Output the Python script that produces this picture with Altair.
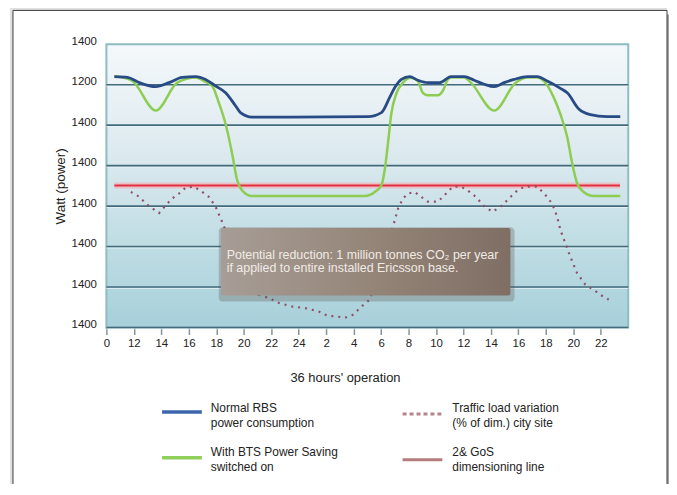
import altair as alt
import pandas as pd

FONT = "Liberation Sans"

# ---------------- data ----------------
x_tick_labels = ["0", "12", "14", "16", "18", "20", "22", "24", "2", "4",
                 "6", "8", "10", "12", "14", "16", "18", "20", "22"]
y_tick_labels = ["1400", "1400", "1400", "1400", "1400", "1400", "1200", "1400"]  # bottom -> top

normal_x = [0.29, 0.77, 1.2, 1.8, 2.28, 2.76, 3.25, 3.61, 3.97, 4.34, 4.7, 4.88, 5.3,
            9.53, 10.01, 10.31, 10.5, 10.74, 11.04, 11.34, 11.7, 12.13, 12.55, 13.03,
            13.39, 13.76, 14.12, 14.48, 14.84, 15.33, 15.69, 16.05, 16.53, 16.78, 17.2,
            17.62, 18.22, 18.71]
normal_y = [6.2, 6.18, 6.05, 5.95, 6.05, 6.18, 6.2, 6.13, 5.97, 5.8, 5.48, 5.31, 5.2,
            5.21, 5.31, 5.68, 5.93, 6.13, 6.2, 6.11, 6.05, 6.05, 6.2, 6.2,
            6.11, 6.01, 5.95, 6.05, 6.13, 6.2, 6.2, 6.09, 5.91, 5.8, 5.4,
            5.26, 5.21, 5.21]

saving_x = [0.29, 0.6, 0.95, 1.8, 2.58, 3.25, 3.55, 3.85, 4.09, 4.34, 4.58, 4.76, 4.94,
            5.3, 9.41, 9.77, 10.01, 10.13, 10.25, 10.37, 10.55, 10.8, 11.1, 11.34,
            11.52, 11.7, 12.07, 12.25, 12.43, 12.55, 13.03, 13.27, 14.12, 14.9, 15.33,
            15.69, 15.93, 16.29, 16.53, 16.78, 16.96, 17.14, 17.38, 17.74, 18.71]
saving_y = [6.2, 6.18, 6.09, 5.36, 6.05, 6.18, 6.09, 5.97, 5.56, 5.03, 4.29, 3.64, 3.39,
            3.25, 3.25, 3.35, 3.51, 3.88, 4.54, 5.27, 5.77, 6.05, 6.17, 6.09,
            5.8, 5.74, 5.74, 5.85, 6.13, 6.18, 6.18, 6.05, 5.36, 6.05, 6.18,
            6.18, 6.09, 5.68, 5.27, 4.7, 4.05, 3.56, 3.35, 3.25, 3.25]

traffic_x = [0.89, 1.2, 1.44, 1.68, 1.92, 2.16, 2.4, 2.64, 2.89, 3.19, 3.49, 3.73, 3.97,
             4.19, 4.33, 4.9, 5.54, 5.91, 6.27, 6.75, 7.24, 7.72, 8.08, 8.32, 8.68,
             8.99, 9.29, 9.59, 10.05, 10.5, 10.62, 10.8, 10.98, 11.22, 11.46, 11.7,
             12.07, 12.37, 12.61, 12.91, 13.15, 13.45, 13.76, 14.06, 14.36, 14.66, 14.9,
             15.21, 15.69, 15.99, 16.23, 16.41, 16.53, 16.71, 16.89, 17.14, 17.44, 17.74,
             17.98, 18.29]
traffic_y = [3.35, 3.23, 3.06, 2.94, 2.83, 3.02, 3.19, 3.31, 3.46, 3.48, 3.35, 3.23, 2.99,
             2.65, 2.41, 1.6, 0.81, 0.73, 0.61, 0.52, 0.48, 0.4, 0.28, 0.28, 0.24,
             0.32, 0.52, 0.69, 1.6, 2.65, 2.94, 3.19, 3.31, 3.35, 3.23, 3.11,
             3.11, 3.31, 3.48, 3.48, 3.39, 3.23, 2.99, 2.86, 2.99, 3.19, 3.35,
             3.48, 3.48, 3.27, 3.06, 2.74, 2.41, 2.08, 1.75, 1.34, 1.06, 0.93,
             0.81, 0.69]

gos_x = [0.29, 18.7]
gos_y = [3.51, 3.51]

grid_levels = [0, 1, 2, 3, 4, 5, 6]

annotation_lines = ["Potential reduction: 1 million tonnes CO\u2082 per year",
                    "if applied to entire installed Ericsson base."]
legend_labels = [["Normal RBS", "power consumption"],
                 ["With BTS Power Saving", "switched on"],
                 ["Traffic load variation", "(% of dim.) city site"],
                 ["2& GoS", "dimensioning line"]]

# ---------------- scales / axes ----------------
xscale = alt.Scale(domain=[0, 19], nice=False, zero=False)
yscale = alt.Scale(domain=[0, 7], nice=False, zero=False)

x_expr = "[" + ",".join("'%s'" % s for s in x_tick_labels) + "][datum.value]"
y_expr = "[" + ",".join("'%s'" % s for s in y_tick_labels) + "][datum.value]"


def x_axis():
    return alt.Axis(values=list(range(len(x_tick_labels))), labelExpr=x_expr,
                    grid=False, domain=False, tickColor="#86949a", tickSize=7,
                    tickWidth=1.5, labelPadding=3, labelFontSize=11.5,
                    labelColor="#222222", labelFlush=False, labelOverlap=False,
                    title="36 hours' operation", titleFontSize=13,
                    titleFontWeight="normal", titleColor="#222222",
                    titleX=240, titleY=50, titleBaseline="middle", titleAlign="center")


def y_axis():
    return alt.Axis(values=list(range(len(y_tick_labels))), labelExpr=y_expr,
                    grid=False, domain=False, ticks=False, labelPadding=10,
                    labelFontSize=11.5, labelColor="#222222", labelFlush=False,
                    labelOverlap=False, labelOffset=-3,
                    title="Watt (power)", titleFontSize=13.5, titleFontWeight="normal",
                    titleColor="#222222", titlePadding=4)


def one():
    return pd.DataFrame({"k": [0]})


def xq(field):
    return alt.X(field, type="quantitative", scale=xscale, axis=x_axis())


def yq(field):
    return alt.Y(field, type="quantitative", scale=yscale, axis=y_axis())


# ---------------- frame (outline only) ----------------
shadow_r = alt.Chart(one()).mark_rect(fill="#8c8c8c", opacity=0.8).encode(
    x=alt.value(564), x2=alt.value(568), y=alt.value(-30), y2=alt.value(470))
shadow_t = alt.Chart(one()).mark_rect(fill="#d8d8d8", opacity=0.8).encode(
    x=alt.value(-97), x2=alt.value(564), y=alt.value(-37), y2=alt.value(-34))
shadow_l = alt.Chart(one()).mark_rect(fill="#d8d8d8", opacity=0.8).encode(
    x=alt.value(-97), x2=alt.value(-94), y=alt.value(-34), y2=alt.value(470))
frame = alt.Chart(one()).mark_rect(fillOpacity=0, stroke="#3c3c3c", strokeWidth=1).encode(
    x=alt.value(-94), x2=alt.value(564), y=alt.value(-34), y2=alt.value(470))

# ---------------- plot background ----------------
area_df = pd.DataFrame({"x0": [0], "x1": [19], "y0": [0], "y1": [7]})
bg = alt.Chart(area_df).mark_rect(
    fill=alt.Gradient(gradient="linear", x1=0, x2=0, y1=0, y2=1, stops=[
        alt.GradientStop(color="#f4f8fa", offset=0),
        alt.GradientStop(color="#dfebf0", offset=0.35),
        alt.GradientStop(color="#c0dde4", offset=0.7),
        alt.GradientStop(color="#a7d0da", offset=1)]),
    stroke="#8dbcc4", strokeWidth=2
).encode(x=xq("x0"), x2="x1:Q", y=yq("y0"), y2="y1:Q")

grid_df = pd.DataFrame({"v": grid_levels, "x0": [0] * 7, "x1": [19] * 7})
grid_hi = alt.Chart(grid_df).mark_rule(color="#eef6f8", strokeWidth=1, opacity=0.7,
                                       yOffset=1.5).encode(
    y=yq("v"), x=xq("x0"), x2="x1:Q")
grid = alt.Chart(grid_df).mark_rule(color="#436b7c", strokeWidth=1.6).encode(
    y=yq("v"), x=xq("x0"), x2="x1:Q")

# ---------------- series ----------------
gos_df = pd.DataFrame({"x": gos_x, "y": gos_y})
gos_glow = alt.Chart(gos_df).mark_line(color="#f6a9b2", strokeWidth=6, opacity=0.6).encode(
    x=xq("x"), y=yq("y"))
gos = alt.Chart(gos_df).mark_line(color="#e2303f", strokeWidth=2).encode(
    x=xq("x"), y=yq("y"))

traffic_df = pd.DataFrame({"x": traffic_x, "y": traffic_y})
traffic = alt.Chart(traffic_df).mark_line(color="#8e5066", strokeWidth=2.2,
                                          strokeDash=[2, 5]).encode(
    x=xq("x"), y=yq("y"))

saving_df = pd.DataFrame({"x": saving_x, "y": saving_y})
saving = alt.Chart(saving_df).mark_line(color="#8dcd52", strokeWidth=2.5,
                                        interpolate="monotone").encode(
    x=xq("x"), y=yq("y"))

normal_df = pd.DataFrame({"x": normal_x, "y": normal_y})
normal = alt.Chart(normal_df).mark_line(color="#284a85", strokeWidth=2.8,
                                        interpolate="monotone").encode(
    x=xq("x"), y=yq("y"))

# ---------------- annotation box ----------------
box_df = pd.DataFrame({"x0": [4.17], "x1": [14.71], "y0": [0.79], "y1": [2.46]})
shadow_df = pd.DataFrame({"x0": [4.09], "x1": [14.86], "y0": [0.64], "y1": [2.48]})
box_shadow = alt.Chart(shadow_df).mark_rect(fill="#5e5650", opacity=0.3, cornerRadius=4).encode(
    x=xq("x0"), x2="x1:Q", y=yq("y0"), y2="y1:Q")
box = alt.Chart(box_df).mark_rect(
    fill=alt.Gradient(gradient="linear", x1=0, x2=1, y1=0, y2=0, stops=[
        alt.GradientStop(color="#a79d96", offset=0),
        alt.GradientStop(color="#958679", offset=0.5),
        alt.GradientStop(color="#7f6e64", offset=1)]),
    cornerRadius=2
).encode(x=xq("x0"), x2="x1:Q", y=yq("y0"), y2="y1:Q")
text_df = pd.DataFrame({"x": [4.38, 4.38], "y": [1.79, 1.47], "t": annotation_lines})
box_text = alt.Chart(text_df).mark_text(align="left", baseline="middle", color="#f1ebe6",
                                        fontSize=12.5, font=FONT).encode(
    x=xq("x"), y=yq("y"), text="t:N")

# ---------------- legend (manual) ----------------
legend_layers = []
sym_specs = [
    dict(x=56, y=370, color="#3c66ad", dash=None, width=3.5),
    dict(x=56, y=416, color="#8fd05a", dash=None, width=3.5),
    dict(x=298, y=372, color="#b3868e", dash=[4, 3], width=3),
    dict(x=298, y=418, color="#b47c7a", dash=None, width=3),
]
text_pos = [(105, 366), (105, 410), (348, 366), (348, 410)]
for spec, (tx, ty), lines in zip(sym_specs, text_pos, legend_labels):
    kw = dict(color=spec["color"], strokeWidth=spec["width"])
    if spec["dash"]:
        kw["strokeDash"] = spec["dash"]
    legend_layers.append(alt.Chart(one()).mark_rule(**kw).encode(
        x=alt.value(spec["x"]), x2=alt.value(spec["x"] + 40), y=alt.value(spec["y"])))
    for i, line in enumerate(lines):
        legend_layers.append(alt.Chart(one()).mark_text(
            align="left", baseline="middle", fontSize=12, color="#222222", font=FONT
        ).encode(x=alt.value(tx), y=alt.value(ty + 15 * i), text=alt.value(line)))

chart = alt.layer(
    bg, grid_hi, grid, gos_glow, gos, traffic, saving, normal,
    box_shadow, box, box_text, shadow_r, shadow_t, shadow_l, frame, *legend_layers
).properties(
    width=525, height=285,
    autosize=alt.AutoSizeParams(type="none"),
    padding={"left": 99, "top": 35, "right": 41, "bottom": 156},
    background="white",
).configure(font=FONT).configure_view(stroke=None)

chart.save("out.html", embed_options={"renderer": "svg", "actions": False})
